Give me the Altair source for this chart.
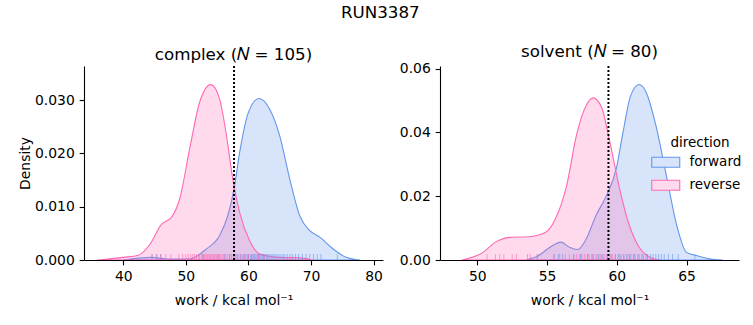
import altair as alt
import pandas as pd

BLUE = "#6495ED"
PINK = "#FF69B4"
BLUE_FILL = "#D8E4FA"   # blue at 25 % on white (legend patch)
PINK_FILL = "#FFDAEC"   # pink at 25 % on white (legend patch)
FONT = "DejaVu Sans"

# ---- KDE curves ----
cf_x = [40.0, 44.5, 46.9, 50.6, 53.3, 55.4, 56.7, 57.7, 58.6, 60.0, 61.7, 63.4, 65.0, 66.6, 68.2, 69.8, 71.4, 73.5, 75.6, 77.8]
cf_d = [0.0, 0.0005, 0.0002, 0.0002, 0.0021, 0.0046, 0.0083, 0.0133, 0.0202, 0.0277, 0.0303, 0.0283, 0.0233, 0.0152, 0.0083, 0.0055, 0.0043, 0.0021, 0.0005, 0.0]

cr_x = [35.8, 40.0, 42.4, 44.3, 46.1, 47.7, 49.0, 50.6, 52.2, 54.0, 55.4, 56.5, 57.5, 58.6, 60.2, 61.8, 65.0, 68.2, 70.3]
cr_d = [0.0, 0.0005, 0.0009, 0.003, 0.0067, 0.008, 0.0114, 0.0208, 0.0296, 0.0329, 0.0302, 0.0233, 0.0152, 0.0089, 0.0036, 0.0011, 0.0005, 0.0004, 0.0]

sf_x = [53.5, 54.4, 55.2, 56.0, 56.6, 57.2, 57.8, 58.5, 59.2, 59.96, 60.4, 61.0, 61.6, 62.1, 62.8, 63.6, 64.3, 65.0, 65.7, 66.7, 67.6]
sf_d = [0.0, 0.0014, 0.004, 0.0056, 0.004, 0.0033, 0.0066, 0.0139, 0.0197, 0.0286, 0.039, 0.0516, 0.055, 0.0526, 0.0422, 0.0254, 0.0108, 0.0024, 0.0014, 0.0003, 0.0]

sr_x = [48.9, 50.4, 51.3, 52.3, 53.7, 54.9, 55.6, 56.4, 57.1, 57.8, 58.3, 58.9, 59.5, 60.2, 60.9, 61.6, 62.4, 63.1]
sr_d = [0.0, 0.0024, 0.0056, 0.0071, 0.0073, 0.0087, 0.0129, 0.0233, 0.039, 0.0484, 0.0508, 0.0479, 0.037, 0.0223, 0.0108, 0.004, 0.0008, 0.0]

# ---- rug samples (approximate) ----
cf_rug = [44.6, 45.3, 46.0, 52.8, 55.1, 56.2, 57.0, 57.6, 58.0, 58.3, 58.7, 59.0, 59.3, 59.5, 59.8, 60.0, 60.3, 60.5, 60.7, 61.0, 61.2, 61.4, 61.6, 61.8, 62.0, 62.2, 62.4, 62.6, 62.9, 63.1, 63.3, 63.6, 63.8, 64.1, 64.3, 64.6, 64.9, 65.2, 65.5, 65.8, 66.2, 66.6, 67.0, 67.5, 68.0, 68.6, 69.2, 69.8, 70.4, 71.0, 71.6, 74.2]
cr_rug = [44.6, 45.4, 46.0, 46.8, 47.6, 48.9, 49.5, 50.0, 50.4, 50.8, 51.1, 51.4, 51.7, 52.0, 52.2, 52.5, 52.7, 52.9, 53.1, 53.3, 53.5, 53.7, 53.9, 54.0, 54.2, 54.4, 54.6, 54.8, 55.0, 55.2, 55.4, 55.6, 55.9, 56.1, 56.4, 56.7, 57.0, 57.3, 57.7, 58.2, 58.7, 59.3, 60.0, 60.8, 61.6, 62.5]
sf_rug = [53.6, 54.3, 55.5, 55.8, 56.1, 56.9, 57.4, 57.9, 58.3, 58.7, 59.0, 59.3, 59.6, 59.9, 60.1, 60.3, 60.5, 60.7, 60.9, 61.0, 61.2, 61.3, 61.5, 61.6, 61.8, 61.9, 62.1, 62.2, 62.4, 62.6, 62.8, 63.0, 63.2, 63.4, 63.7, 64.0, 64.4, 65.6]
sr_rug = [50.7, 51.3, 51.6, 51.9, 52.5, 52.8, 53.8, 54.3, 55.5, 55.9, 56.3, 56.6, 56.9, 57.1, 57.3, 57.5, 57.7, 57.9, 58.0, 58.2, 58.3, 58.5, 58.6, 58.8, 58.9, 59.1, 59.3, 59.5, 59.7, 59.9, 60.2, 60.5, 60.8, 61.2]

directions = ["forward", "reverse"]
line_colors = [BLUE, PINK]
fill_colors = [BLUE_FILL, PINK_FILL]

complex_vline = 57.7
solvent_vline = 59.4
complex_xticks = [40, 50, 60, 70, 80]
solvent_xticks = [50, 55, 60, 65]
complex_yticks = [0.0, 0.01, 0.02, 0.03]
solvent_yticks = [0.0, 0.02, 0.04, 0.06]

W, H = 299, 194


def curves(fx, fd, rx, rd):
    return pd.DataFrame(
        {"work": fx + rx, "density": fd + rd,
         "direction": ["forward"] * len(fx) + ["reverse"] * len(rx)}
    )


def rugs(f, r):
    return pd.DataFrame({"work": f + r, "direction": ["forward"] * len(f) + ["reverse"] * len(r)})


def panel(cdf, rdf, xdom, ydom, xticks, yticks, yfmt, ytitle, vline, title, legend):
    xs = alt.Scale(domain=xdom, nice=False, zero=False)
    ys = alt.Scale(domain=ydom, nice=False, zero=False)
    ss = alt.Scale(domain=directions, range=line_colors)
    fs = alt.Scale(domain=directions, range=fill_colors)
    xax = alt.Axis(values=xticks, format="d", title="work / kcal mol⁻¹")
    yax = alt.Axis(values=yticks, format=yfmt, title=ytitle)
    area = alt.Chart(cdf).mark_area(
        interpolate="monotone", strokeWidth=1.1, fillOpacity=0.25, strokeOpacity=1, clip=True
    ).encode(
        x=alt.X("work:Q", scale=xs, axis=xax),
        y=alt.Y("density:Q", scale=ys, axis=yax, stack=None),
        fill=alt.Fill("direction:N", scale=ss, legend=None),
        stroke=alt.Stroke("direction:N", scale=ss, legend=None),
    )
    rug = alt.Chart(rdf).mark_rule(strokeWidth=1, opacity=0.6).encode(
        x=alt.X("work:Q", scale=xs),
        y=alt.value(H - 6),
        y2=alt.value(H),
        stroke=alt.Stroke("direction:N", scale=ss, legend=None),
    )
    vl = alt.Chart(pd.DataFrame({"work": [vline]})).mark_rule(
        color="black", strokeWidth=2, strokeDash=[2, 2]
    ).encode(x=alt.X("work:Q", scale=xs))
    layers = [area, rug, vl]
    if legend is not None:
        # legend-only layer: no rows survive the filter, the scales carry the legend
        key = alt.Chart(cdf).transform_filter("false").mark_area(strokeWidth=1.1).encode(
            x=alt.X("work:Q", scale=xs),
            y=alt.Y("density:Q", scale=ys, stack=None),
            fill=alt.Fill("direction:N", scale=fs, legend=legend),
            stroke=alt.Stroke("direction:N", scale=ss, legend=legend),
        )
        layers.append(key)
    return alt.layer(*layers).resolve_scale(fill="independent", stroke="independent").properties(
        width=W, height=H,
        title=alt.TitleParams(title, fontSize=16.7, font=FONT, fontWeight="normal", offset=1, color="black"),
    )


legend = alt.Legend(
    title="direction", orient="none", legendX=219, legendY=70,
    titleAnchor="middle", titleFontSize=13.5, labelFontSize=13.5, titleFont=FONT, labelFont=FONT,
    titleFontWeight="normal", titleColor="black", labelColor="black",
    symbolType="M-2.8,-1H2.8V1H-2.8Z", symbolSize=100, symbolStrokeWidth=1.1,
    rowPadding=8, labelOffset=17, titlePadding=6,
)
left = panel(
    curves(cf_x, cf_d, cr_x, cr_d), rugs(cf_rug, cr_rug), [33.73, 81.5], [0, 0.0364],
    complex_xticks, complex_yticks, ".3f", "Density", complex_vline, "complex (𝑁 = 105)", None,
)
right = panel(
    curves(sf_x, sf_d, sr_x, sr_d), rugs(sf_rug, sr_rug), [47.32, 68.76], [0, 0.0608],
    solvent_xticks, solvent_yticks, ".2f", None, solvent_vline, "solvent (𝑁 = 80)", legend,
)

chart = alt.hconcat(left, right, spacing=16).resolve_scale(
    fill="independent", stroke="independent"
).resolve_legend(
    fill="independent", stroke="independent"
).properties(
    title=alt.TitleParams("RUN3387", fontSize=16.7, font=FONT, fontWeight="normal", anchor="middle",
                          color="black", offset=22),
    padding={"left": 18, "top": 5, "right": 5, "bottom": 5},
).configure_view(stroke=None).configure_axis(
    labelFont=FONT, titleFont=FONT, labelFontSize=13.9, titleFontSize=13.9,
    labelColor="black", titleColor="black", titleFontWeight="normal",
    tickSize=4.86, labelPadding=4.86, tickColor="black", domainColor="black",
    tickWidth=1.1, domainWidth=1.1, grid=False,
).configure_axisX(titlePadding=10).configure_axisY(titlePadding=2).configure_legend(
    titleFontSize=13.5, labelFontSize=13.5
)

chart.save("out.html", embed_options={"renderer": "svg", "actions": False})
